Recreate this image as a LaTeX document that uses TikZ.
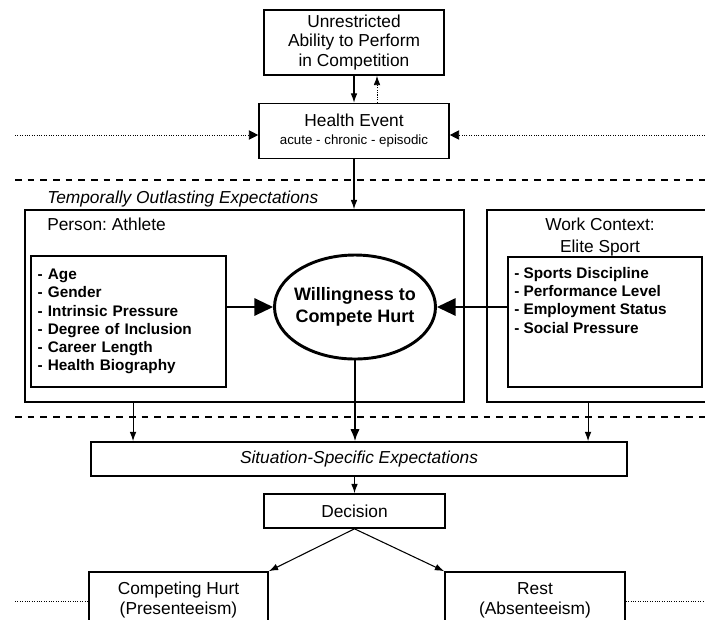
\documentclass[tikz,border=0pt]{standalone}
\usepackage{fontspec}
\setmainfont{Liberation Sans}
\frenchspacing
\usetikzlibrary{positioning,arrows.meta,shapes.geometric,calc}
\tikzset{
  box/.style={rectangle,draw=black,line width=1.2pt,fill=white,align=center,inner sep=0pt,font=\fontsize{13}{14.6}\selectfont},
  framebox/.style={rectangle,draw=black,line width=1.2pt,inner sep=0pt},
  listbox/.style={rectangle,draw=black,line width=1.2pt,align=left,inner xsep=5pt,inner ysep=0pt,font=\bfseries\fontsize{11.5}{13.7}\selectfont},
  plain/.style={inner sep=0pt,font=\fontsize{13}{14.6}\selectfont},
  core/.style={ellipse,draw=black,line width=2.2pt,align=center,inner xsep=-3pt,inner ysep=0pt,minimum width=120pt,minimum height=78pt,font=\bfseries\fontsize{13.5}{16}\selectfont},
  flowarrow/.style={-{Latex[length=7pt,width=5pt]},line width=0.8pt},
  sidearrow/.style={-{Triangle[length=7pt,width=7pt]},line width=0.6pt},
  mainarrow/.style={-{Latex[length=9pt,width=7pt]},line width=1.4pt},
  bigarrow/.style={-{Triangle[length=14pt,width=13pt]},line width=1.5pt},
  dotline/.style={line width=0.6pt,dash pattern=on 0.8pt off 1pt},
  sepline/.style={line width=1.5pt,dash pattern=on 5pt off 4.5pt}
}

\begin{document}
\begin{tikzpicture}[x=0.75pt,y=-0.75pt]
  \clip (0,0) rectangle (705,619);

  % top: ability and health event
  \node[box,minimum width=135pt,minimum height=48.75pt] (ability) at (354,42.5) {Unrestricted\\Ability to Perform\\in Competition};
  \node[box,minimum width=142.5pt,minimum height=41.25pt] (health) at (354,131) {Health Event\\[-1pt]{\fontsize{10}{12}\selectfont acute - chronic - episodic}};
  \draw[flowarrow] (ability.south) -- (health.north);
  \draw[flowarrow,dotline] ([xshift=17.25pt]health.north) -- ([xshift=17.25pt]ability.south);

  \coordinate (dotL) at (15,135);
  \coordinate (dotR) at (705,135);
  \draw[sidearrow,dotline] (dotL) -- (dotL -| health.west);
  \draw[sidearrow,dotline] (dotR) -- (dotR -| health.east);

  \coordinate (sepA1) at (15,180);
  \coordinate (sepA2) at (705,180);
  \draw[sepline] (sepA1) -- (sepA2);
  \node[plain,anchor=base west,font=\itshape\fontsize{13}{14.6}\selectfont] (temporal) at (47,203) {Temporally Outlasting Expectations};

  % person and work context
  \node[framebox,minimum width=329.25pt,minimum height=144pt] (person) at (244.5,306) {};
  \node[framebox,minimum width=174.75pt,minimum height=144pt] (work) at (603.5,306) {};
  \node[plain,anchor=base west] (persontitle) at (47,230) {Person: Athlete};
  \node[plain,align=center,font=\fontsize{13}{16.5}\selectfont] (worktitle) at (600,237) {Work Context:\\Elite Sport};
  \draw[flowarrow] (health.south) -- (health.south |- person.north);

  \node[listbox,text width=136.25pt,minimum height=98.25pt] (athlist) at (128.5,321.5)
    {- Age\\- Gender\\- Intrinsic Pressure\\- Degree of Inclusion\\- Career Length\\- Health Biography};
  \node[framebox,minimum width=145.5pt,minimum height=97.5pt] (sportbox) at (605,322) {};
  \node[plain,anchor=north west,align=left,font=\bfseries\fontsize{11.5}{13.7}\selectfont] (sportlist) at (514,267)
    {- Sports Discipline\\- Performance Level\\- Employment Status\\- Social Pressure};

  \node[core] (willing) at (355,307) {Willingness to\\Compete Hurt};
  \draw[bigarrow] (athlist.east |- willing.west) -- (willing.west);
  \draw[bigarrow] (sportbox.west |- willing.east) -- (willing.east);

  \coordinate (sepB1) at (15,417);
  \coordinate (sepB2) at (705,417);
  \draw[sepline] (sepB1) -- (sepB2);

  % situation and decision
  \node[box,minimum width=402pt,minimum height=25.5pt,font=\itshape\fontsize{13}{14.6}\selectfont] (situation) at (359,459) {Situation-Specific Expectations};
  \draw[mainarrow] (willing.south) -- (willing.south |- situation.north);
  \draw[flowarrow] ([xshift=-83.6pt]person.south) -- ([xshift=-83.6pt]person.south |- situation.north);
  \draw[flowarrow] ([xshift=-11.6pt]work.south) -- ([xshift=-11.6pt]work.south |- situation.north);

  \node[box,minimum width=135.75pt,minimum height=25.5pt] (decision) at (354.5,511) {Decision};
  \draw[flowarrow] (decision.north |- situation.south) -- (decision.north);

  % outcomes
  \coordinate (dotBL) at (15,601);
  \coordinate (dotBR) at (705,601);
  \node[box,minimum width=134.25pt,minimum height=42pt,font=\fontsize{13}{15}\selectfont] (competing) at (178.5,600) {Competing Hurt\\(Presenteeism)};
  \node[box,minimum width=135pt,minimum height=42pt,font=\fontsize{13}{15}\selectfont] (rest) at (535,600) {Rest\\(Absenteeism)};
  \draw[dotline] (dotBL) -- (dotBL -| competing.west);
  \draw[dotline] (rest.east |- dotBR) -- (dotBR);
  \draw[flowarrow] (decision.south) -- (competing.north east);
  \draw[flowarrow] (decision.south) -- (rest.north west);
\end{tikzpicture}
\end{document}
